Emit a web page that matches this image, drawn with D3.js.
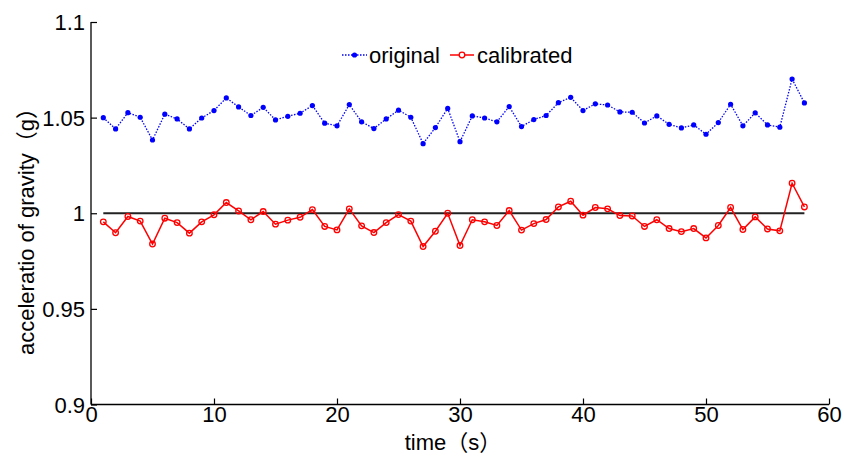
<!DOCTYPE html>
<html><head><meta charset="utf-8">
<script src="https://cdn.jsdelivr.net/npm/d3@7"></script>
<style>body{margin:0;background:#fff;}svg{display:block;font-family:"Liberation Sans","Noto Sans CJK SC",Arial,sans-serif;}</style>
</head><body><svg id="c" width="844" height="457"></svg>
<script>
const time = d3.range(1, 59);
const original = [1.0500,1.0441,1.0526,1.0502,1.0383,1.0518,1.0493,1.0441,1.0498,1.0537,
1.0603,1.0556,1.0511,1.0554,1.0488,1.0507,1.0523,1.0563,1.0471,1.0457,
1.0568,1.0478,1.0443,1.0493,1.0539,1.0502,1.0364,1.0448,1.0548,1.0374,
1.0509,1.0498,1.0478,1.0558,1.0453,1.0490,1.0511,1.0578,1.0606,1.0537,
1.0572,1.0566,1.0530,1.0528,1.0472,1.0509,1.0465,1.0446,1.0462,1.0413,
1.0474,1.0570,1.0457,1.0525,1.0462,1.0450,1.0702,1.0577];
const calibrated = [0.9955,0.9898,0.9983,0.9959,0.9839,0.9974,0.9951,0.9896,0.9955,0.9992,
1.0056,1.0012,0.9966,1.0009,0.9943,0.9964,0.9979,1.0019,0.9931,0.9913,
1.0023,0.9934,0.9899,0.9951,0.9993,0.9959,0.9826,0.9906,1.0000,0.9831,
0.9966,0.9955,0.9936,1.0014,0.9912,0.9946,0.9967,1.0033,1.0063,0.9990,
1.0030,1.0023,0.9988,0.9986,0.9931,0.9966,0.9920,0.9904,0.9920,0.9871,
0.9936,1.0030,0.9915,0.9981,0.9918,0.9908,1.0157,1.0033];
const reference = 1.0;
const xTicks = [0,10,20,30,40,50,60];
const yTicks = [0.9,0.95,1,1.05,1.1];
const seriesNames = ["original","calibrated"];

const FONT = "Liberation Sans, Noto Sans CJK SC, Arial, sans-serif";
const svg = d3.select("#c");
const x = d3.scaleLinear().domain([0,60]).range([91,829]);
const y = d3.scaleLinear().domain([0.9,1.1]).range([404.5,22]);
const fs = 22;

// axes
const xAxis = svg.append("g").attr("transform",`translate(0,${y(0.9)})`)
  .call(d3.axisBottom(x).tickValues(xTicks).tickSize(-6).tickPadding(9).tickFormat(d3.format("d")));
const yAxis = svg.append("g").attr("transform",`translate(${x(0)},0)`)
  .call(d3.axisLeft(y).tickValues(yTicks).tickSize(-6).tickPadding(6).tickFormat(d=>String(+d.toFixed(2))));
[xAxis,yAxis].forEach(g=>{
  g.select(".domain").attr("stroke","#000").attr("stroke-width",1.3);
  g.selectAll(".tick line").attr("stroke","#000").attr("stroke-width",1.2);
  g.selectAll("text").attr("font-size",fs).attr("fill","#000").attr("font-family",FONT);
});
xAxis.select(".domain").attr("d",`M${x(0)},0H${x(60)}`);
yAxis.select(".domain").attr("d",`M0,${y(1.1)}V${y(0.9)}`);
xAxis.selectAll(".tick text").attr("dy","0.4em");
yAxis.selectAll(".tick text").attr("dy","0.35em");

// reference line
svg.append("line").attr("x1",x(1)).attr("x2",x(58)).attr("y1",y(reference)).attr("y2",y(reference))
  .attr("stroke","#222").attr("stroke-width",1.8);

const line = d3.line().x((d,i)=>x(time[i])).y(d=>y(d));
// original
svg.append("path").datum(original).attr("d",line).attr("fill","none")
  .attr("stroke","#0000ff").attr("stroke-width",1.3).attr("stroke-dasharray","1.5,1.5");
svg.append("g").selectAll("circle").data(original).join("circle")
  .attr("cx",(d,i)=>x(time[i])).attr("cy",d=>y(d)).attr("r",2.6).attr("fill","#0000ff");
// calibrated
svg.append("path").datum(calibrated).attr("d",line).attr("fill","none")
  .attr("stroke","#ff0000").attr("stroke-width",1.5);
svg.append("g").selectAll("circle").data(calibrated).join("circle")
  .attr("cx",(d,i)=>x(time[i])).attr("cy",d=>y(d)).attr("r",2.8)
  .attr("fill","none").attr("stroke","#ff0000").attr("stroke-width",1.3);

// legend
const ly = 55;
const lg = svg.append("g").attr("font-family",FONT);
lg.append("line").attr("x1",342).attr("x2",367).attr("y1",ly).attr("y2",ly)
  .attr("stroke","#0000ff").attr("stroke-width",1.3).attr("stroke-dasharray","1.5,1.5");
lg.append("circle").attr("cx",354.5).attr("cy",ly).attr("r",2.6).attr("fill","#0000ff");
lg.append("text").attr("x",369).attr("y",ly).attr("dy","0.35em").attr("font-size",fs).text(seriesNames[0]);
lg.append("line").attr("x1",450).attr("x2",474).attr("y1",ly).attr("y2",ly)
  .attr("stroke","#ff0000").attr("stroke-width",1.5);
lg.append("circle").attr("cx",462).attr("cy",ly).attr("r",2.8).attr("fill","#fff").attr("stroke","#ff0000").attr("stroke-width",1.3);
lg.append("text").attr("x",477).attr("y",ly).attr("dy","0.35em").attr("font-size",fs).text(seriesNames[1]);

// axis titles
svg.append("text").attr("x",453).attr("y",450).attr("text-anchor","middle").attr("font-size",fs)
  .attr("font-family",FONT).text("time（s）");
svg.append("text").attr("transform",`translate(34,226) rotate(-90)`).attr("text-anchor","middle").attr("font-size",fs)
  .attr("font-family",FONT).text("acceleratio of gravity（g）");
</script></body></html>
